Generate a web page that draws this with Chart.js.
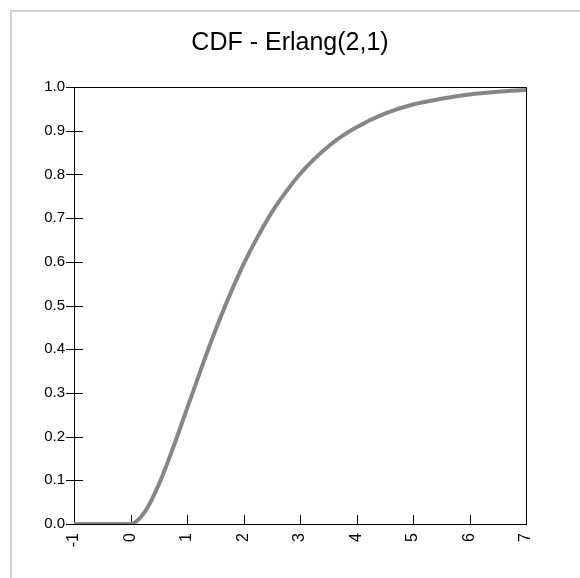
<!DOCTYPE html>
<html>
<head>
<meta charset="utf-8">
<script src="https://cdn.jsdelivr.net/npm/chart.js@4/dist/chart.umd.min.js"></script>
<style>
  html, body { margin: 0; padding: 0; background: #fff; }
  #wrap { position: relative; width: 580px; height: 578px; overflow: hidden; }
  #frame { position: absolute; left: 10px; top: 10px; width: 700px; height: 700px;
           border-left: 2px solid #d2d2d2; border-top: 2px solid #d2d2d2; }
  #c { position: absolute; left: 0; top: 0; }
</style>
</head>
<body>
<div id="wrap">
  <div id="frame"></div>
  <canvas id="c" width="580" height="578"></canvas>
</div>
<script>
// Erlang(2,1) cumulative distribution, sampled points
const xValues = [-1, -0.5, 0, 0.25, 0.5, 0.75, 1, 1.25, 1.5, 1.75, 2, 2.25, 2.5, 2.75,
                 3, 3.25, 3.5, 3.75, 4, 4.5, 5, 5.5, 6, 6.5, 7];
const cdfValues = [0, 0, 0, 0.027, 0.090, 0.173, 0.264, 0.355, 0.442, 0.522, 0.594, 0.657,
                   0.713, 0.760, 0.801, 0.835, 0.864, 0.888, 0.908, 0.939, 0.960, 0.973,
                   0.983, 0.989, 0.993];
const xTicks = [-1, 0, 1, 2, 3, 4, 5, 6, 7];
const yTicks = [0, 0.1, 0.2, 0.3, 0.4, 0.5, 0.6, 0.7, 0.8, 0.9, 1.0];
const chartTitle = 'CDF - Erlang(2,1)';

const FONT = 'Liberation Sans, Arial, sans-serif';

// Box around the plot area plus the short tick marks on both axes
const axisMarks = {
  id: 'axisMarks',
  beforeDatasetsDraw(chart) {
    const {ctx, chartArea: a, scales: {x, y}} = chart;
    ctx.save();
    ctx.strokeStyle = '#000';
    ctx.lineWidth = 1;
    ctx.beginPath();
    ctx.rect(Math.round(a.left) + 0.5, Math.round(a.top) + 0.5,
             Math.round(a.right - a.left), Math.round(a.bottom - a.top));
    ctx.stroke();
    ctx.beginPath();
    for (const v of yTicks) {
      const py = Math.round(y.getPixelForValue(v)) + 0.5;
      ctx.moveTo(a.left - 8, py);
      ctx.lineTo(a.left + 9, py);
    }
    for (const v of xTicks) {
      const px = Math.round(x.getPixelForValue(v)) + 0.5;
      ctx.moveTo(px, a.bottom - 9);
      ctx.lineTo(px, a.bottom + 1);
    }
    ctx.stroke();
    ctx.restore();
  }
};

new Chart(document.getElementById('c'), {
  type: 'line',
  data: {
    datasets: [{
      data: xValues.map((v, i) => ({x: v, y: cdfValues[i]})),
      borderColor: '#868686',
      borderWidth: 4,
      pointRadius: 0,
      fill: false,
      cubicInterpolationMode: 'monotone'
    }]
  },
  options: {
    responsive: false,
    animation: false,
    events: [],
    layout: { padding: 0 },
    plugins: {
      legend: { display: false },
      tooltip: { enabled: false },
      title: {
        display: true,
        text: chartTitle,
        color: '#000',
        font: { family: FONT, size: 25, weight: 'normal', lineHeight: 1.2 },
        padding: { top: 28, bottom: 29 }
      }
    },
    scales: {
      x: {
        type: 'linear',
        min: -1, max: 7,
        afterBuildTicks(scale) { scale.ticks = xTicks.map(v => ({value: v})); },
        afterFit(scale) { scale.height = 54; },
        grid: { display: false, drawTicks: false },
        border: { display: false },
        ticks: {
          color: '#000',
          font: { family: FONT, size: 16 },
          minRotation: 90, maxRotation: 90,
          padding: 9,
          callback: v => String(v)
        }
      },
      y: {
        type: 'linear',
        min: 0, max: 1,
        afterBuildTicks(scale) { scale.ticks = yTicks.map(v => ({value: v})); },
        afterFit(scale) { scale.width = 74; },
        grid: { display: false, drawTicks: false },
        border: { display: false },
        ticks: {
          color: '#000',
          font: { family: FONT, size: 15 },
          padding: 9,
          callback: v => Number(v).toFixed(1)
        }
      },
      // empty right-hand margin beside the plot box
      gap: {
        type: 'linear',
        position: 'right',
        afterFit(scale) { scale.width = 54; },
        grid: { display: false, drawTicks: false },
        border: { display: false },
        ticks: { display: false }
      }
    }
  },
  plugins: [axisMarks]
});
</script>
</body>
</html>
